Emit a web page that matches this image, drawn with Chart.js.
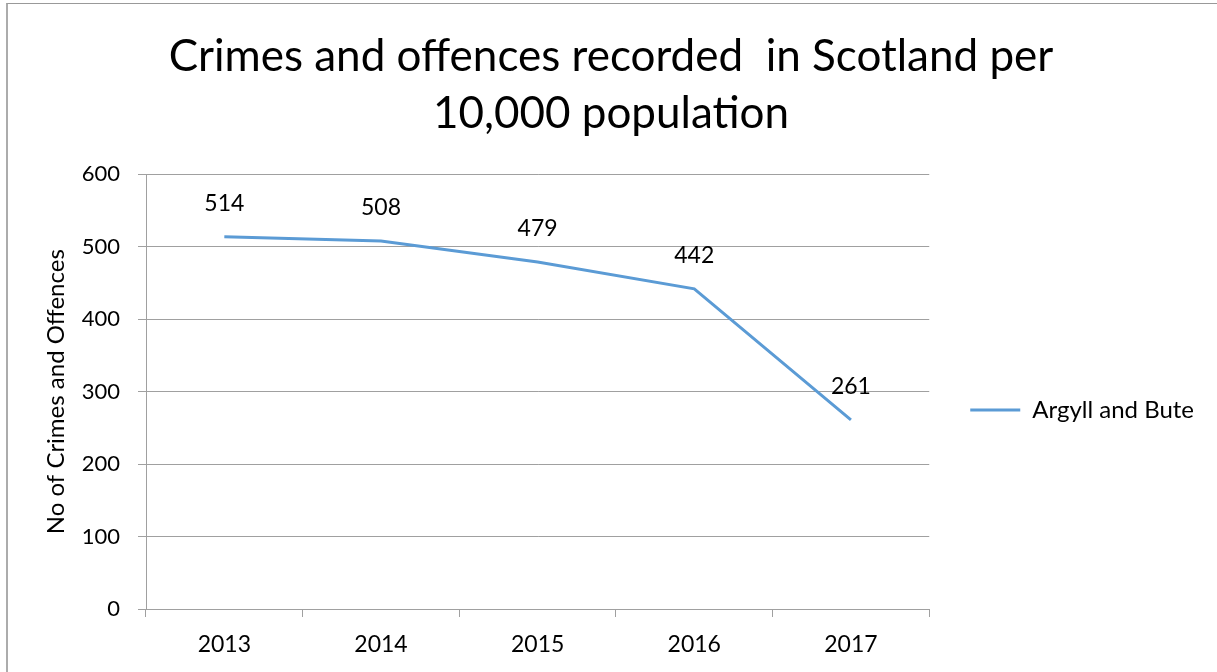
<!DOCTYPE html>
<html>
<head>
<meta charset="utf-8">
<script src="https://cdn.jsdelivr.net/npm/chart.js@4"></script>
<style>
  html, body { margin: 0; padding: 0; background: #fff; overflow: hidden; }
  #frame {
    position: absolute; left: 6px; top: 3px; width: 1400px; height: 900px;
    border-left: 2px solid #acacac; border-top: 1px solid #999;
  }
  #wrap { position: absolute; left: 0; top: 0; width: 1217px; height: 672px; }
</style>
</head>
<body>
<div id="frame"></div>
<div id="wrap"><canvas id="chart" width="1217" height="672"></canvas></div>
<script>
  // Crimes and offences per 10,000 population, Argyll and Bute
  var years = ['2013', '2014', '2015', '2016', '2017'];
  var crimes = [514, 508, 479, 442, 261];
  var yTicks = [0, 100, 200, 300, 400, 500, 600];

  var FONT = 'Lato, Carlito, "Open Sans", sans-serif';
  var AXIS_GREY = '#a0a0a0';
  var LINE_BLUE = '#5b9bd5';

  // Data labels above each point, drawn from the point positions Chart.js computes.
  var pointLabels = {
    id: 'pointLabels',
    afterDatasetsDraw: function (chart) {
      var ctx = chart.ctx;
      var meta = chart.getDatasetMeta(0);
      ctx.save();
      ctx.font = '23px ' + FONT;
      ctx.fillStyle = '#000';
      ctx.textAlign = 'center';
      ctx.textBaseline = 'middle';
      meta.data.forEach(function (pt, i) {
        ctx.fillText(String(crimes[i]), pt.x, pt.y - 33);
      });
      ctx.restore();
    }
  };

  new Chart(document.getElementById('chart'), {
    type: 'line',
    data: {
      labels: years,
      datasets: [{
        label: 'Argyll and Bute',
        data: crimes,
        borderColor: LINE_BLUE,
        backgroundColor: LINE_BLUE,
        borderWidth: 3,
        pointRadius: 0,
        tension: 0,
        fill: false
      }]
    },
    options: {
      responsive: false,
      devicePixelRatio: 1,
      animation: false,
      layout: { padding: { left: 18, right: 13, top: 10, bottom: 0 } },
      plugins: {
        title: {
          display: true,
          text: ['Crimes and offences recorded  in Scotland per', '10,000 population'],
          color: '#000',
          font: { family: FONT, size: 44, weight: 'normal', lineHeight: 1.3 },
          padding: { top: 18, bottom: 32 }
        },
        legend: {
          display: true,
          position: 'right',
          // empty title only pushes the single entry down to match the reference
          title: { display: true, text: '', font: { size: 10 }, padding: { top: 0, bottom: 126 } },
          labels: {
            color: '#000',
            font: { family: FONT, size: 24 },
            boxWidth: 50,
            boxHeight: 3,
            padding: 41,
            generateLabels: function (chart) {
              return [{
                text: chart.data.datasets[0].label,
                fillStyle: LINE_BLUE,
                strokeStyle: LINE_BLUE,
                fontColor: '#000',
                lineWidth: 0,
                datasetIndex: 0
              }];
            }
          }
        },
        tooltip: { enabled: false }
      },
      scales: {
        x: {
          offset: true,
          grid: { offset: true, drawOnChartArea: false, drawTicks: true, tickLength: 8, color: AXIS_GREY },
          border: { color: AXIS_GREY },
          ticks: { color: '#000', font: { family: FONT, size: 23 }, padding: 14 },
          afterFit: function (s) { s.height = 63; }
        },
        y: {
          min: 0,
          max: 600,
          afterBuildTicks: function (s) { s.ticks = yTicks.map(function (v) { return { value: v }; }); },
          grid: { color: AXIS_GREY, tickLength: 8 },
          border: { color: AXIS_GREY },
          ticks: { color: '#000', font: { family: FONT, size: 22 }, padding: 18 },
          title: {
            display: true,
            text: 'No of Crimes and Offences',
            color: '#000',
            font: { family: FONT, size: 24 },
            padding: { top: 24, bottom: 0 }
          },
          afterFit: function (s) { s.width = 128; }
        }
      }
    },
    plugins: [pointLabels]
  });
</script>
</body>
</html>
